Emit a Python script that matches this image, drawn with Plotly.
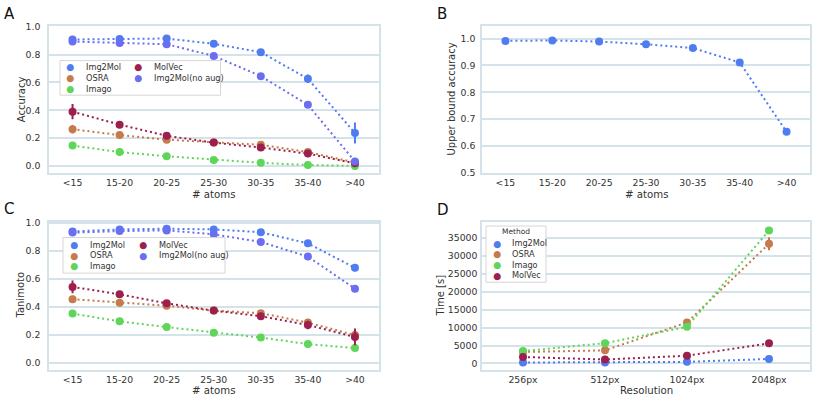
import plotly.graph_objects as go

W, H = 813, 400

# ---------------- data ----------------
atom_bins = ["<15", "15-20", "20-25", "25-30", "30-35", "35-40", ">40"]
resolutions = ["256px", "512px", "1024px", "2048px"]

methods = ["Img2Mol", "OSRA", "Imago", "MolVec", "Img2Mol(no aug)"]
colors = {
    "Img2Mol": "#4f7cf0",
    "OSRA": "#c67b4d",
    "Imago": "#5fd55a",
    "MolVec": "#9c1f4d",
    "Img2Mol(no aug)": "#6c6ef2",
}

# Panel A: accuracy
acc_img2mol = [0.908, 0.912, 0.915, 0.877, 0.817, 0.626, 0.237]
acc_osra = [0.264, 0.222, 0.189, 0.168, 0.152, 0.100, 0.026]
acc_imago = [0.147, 0.100, 0.070, 0.044, 0.023, 0.007, 0.001]
acc_molvec = [0.390, 0.297, 0.217, 0.168, 0.133, 0.089, 0.019]
acc_noaug = [0.893, 0.883, 0.874, 0.790, 0.645, 0.439, 0.033]
acc_err_img2mol = [0.01, 0.01, 0.01, 0.01, 0.01, 0.03, 0.075]
acc_err_osra = [0.03, 0.01, 0.01, 0.01, 0.015, 0.02, 0.01]
acc_err_imago = [0.022, 0.008, 0.008, 0.006, 0.005, 0.005, 0.003]
acc_err_molvec = [0.055, 0.012, 0.015, 0.012, 0.022, 0.025, 0.01]
acc_err_noaug = [0.01, 0.01, 0.01, 0.01, 0.015, 0.018, 0.02]

# Panel B: upper bound accuracy
upper_bound = [0.9915, 0.993, 0.989, 0.979, 0.965, 0.911, 0.653]

# Panel C: tanimoto
tan_img2mol = [0.940, 0.955, 0.960, 0.955, 0.935, 0.855, 0.680]
tan_osra = [0.455, 0.430, 0.408, 0.373, 0.355, 0.287, 0.198]
tan_imago = [0.352, 0.296, 0.255, 0.215, 0.180, 0.133, 0.105]
tan_molvec = [0.543, 0.490, 0.425, 0.373, 0.333, 0.270, 0.184]
tan_noaug = [0.932, 0.943, 0.948, 0.920, 0.865, 0.760, 0.530]
tan_err_img2mol = [0.01, 0.01, 0.01, 0.01, 0.01, 0.012, 0.025]
tan_err_osra = [0.025, 0.01, 0.01, 0.01, 0.012, 0.02, 0.03]
tan_err_imago = [0.01, 0.008, 0.008, 0.008, 0.008, 0.01, 0.02]
tan_err_molvec = [0.045, 0.012, 0.012, 0.012, 0.025, 0.03, 0.06]
tan_err_noaug = [0.01, 0.01, 0.01, 0.01, 0.01, 0.01, 0.01]

# Panel D: time
time_img2mol = [270, 260, 450, 1250]
time_osra = [3200, 3650, 11400, 33300]
time_imago = [3450, 5650, 10200, 37000]
time_molvec = [1800, 1100, 2150, 5600]
time_err_img2mol = [50, 50, 60, 150]
time_err_osra = [200, 300, 400, 1800]
time_err_imago = [200, 200, 300, 400]
time_err_molvec = [150, 100, 150, 250]

panel_a = {
    "Img2Mol": (acc_img2mol, acc_err_img2mol),
    "OSRA": (acc_osra, acc_err_osra),
    "Imago": (acc_imago, acc_err_imago),
    "MolVec": (acc_molvec, acc_err_molvec),
    "Img2Mol(no aug)": (acc_noaug, acc_err_noaug),
}
panel_c = {
    "Img2Mol": (tan_img2mol, tan_err_img2mol),
    "OSRA": (tan_osra, tan_err_osra),
    "Imago": (tan_imago, tan_err_imago),
    "MolVec": (tan_molvec, tan_err_molvec),
    "Img2Mol(no aug)": (tan_noaug, tan_err_noaug),
}
panel_d = {
    "Img2Mol": (time_img2mol, time_err_img2mol),
    "OSRA": (time_osra, time_err_osra),
    "Imago": (time_imago, time_err_imago),
    "MolVec": (time_molvec, time_err_molvec),
}

# ---------------- styling ----------------
FONT = "DejaVu Sans"
TXT = "#333333"
GRID = "#d4e2ea"
DASH = "2px,3px"


def px(x):
    return x / W


def py(y):
    return 1 - y / H


fig = go.Figure()


def add_series(xvals, yvals, err, name, xa, ya):
    fig.add_trace(go.Scatter(
        x=xvals, y=yvals, name=name, mode="lines+markers",
        xaxis=xa, yaxis=ya, showlegend=False,
        line=dict(color=colors[name], width=2, dash=DASH),
        marker=dict(color=colors[name], size=8),
        error_y=dict(type="data", array=err, visible=True,
                     color=colors[name], thickness=2, width=0) if err else None,
    ))


for name, (vals, err) in panel_a.items():
    add_series(atom_bins, vals, err, name, "x", "y")
add_series(atom_bins, upper_bound, None, "Img2Mol", "x2", "y2")
for name, (vals, err) in panel_c.items():
    add_series(atom_bins, vals, err, name, "x3", "y3")
for name, (vals, err) in panel_d.items():
    add_series(resolutions, vals, err, name, "x4", "y4")

dom_left = [px(49), px(378.5)]
dom_right = [px(482), px(810)]
dom_top = [py(172.3), py(21.5)]
dom_bot = [py(374), py(222.3)]

common_x = dict(showgrid=False, showline=True, mirror=True, linecolor=GRID,
                linewidth=1.5, ticks="", zeroline=False,
                tickfont=dict(family=FONT, size=9.3, color=TXT))


def common_y(standoff):
    return dict(showgrid=True, gridcolor=GRID, gridwidth=1.5, showline=True,
                mirror=True, linecolor=GRID, linewidth=1.5, ticks="",
                zeroline=False, ticklabelstandoff=standoff,
                tickfont=dict(family=FONT, size=9.3, color=TXT))


fig.update_layout(
    width=W, height=H, margin=dict(l=0, r=0, t=0, b=0),
    paper_bgcolor="white", plot_bgcolor="white", showlegend=False,
    xaxis=dict(domain=dom_left, anchor="y", range=[-0.5, 6.5], **common_x),
    yaxis=dict(domain=dom_top, anchor="x", range=[-0.05, 1.005],
               tickvals=[0, 0.2, 0.4, 0.6, 0.8, 1.0], tickformat=".1f", **common_y(5)),
    xaxis2=dict(domain=dom_right, anchor="y2", range=[-0.5, 6.5], **common_x),
    yaxis2=dict(domain=dom_top, anchor="x2", range=[0.5, 1.047],
                tickvals=[0.5, 0.6, 0.7, 0.8, 0.9, 1.0], tickformat=".1f", **common_y(3)),
    xaxis3=dict(domain=dom_left, anchor="y3", range=[-0.5, 6.5], **common_x),
    yaxis3=dict(domain=dom_bot, anchor="x3", range=[-0.05, 1.01],
                tickvals=[0, 0.2, 0.4, 0.6, 0.8, 1.0], tickformat=".1f", **common_y(5)),
    xaxis4=dict(domain=dom_right, anchor="y4", range=[-0.5, 3.5], **common_x),
    yaxis4=dict(domain=dom_bot, anchor="x4", range=[-1720, 39440],
                tickvals=[0, 5000, 10000, 15000, 20000, 25000, 30000, 35000],
                tickformat="d", **common_y(1)),
)

annotations = []
shapes = []


def text(x, y, s, size, xanchor="center", yanchor="middle", angle=0, color=TXT):
    annotations.append(dict(
        x=px(x), y=py(y), xref="paper", yref="paper", text=s, showarrow=False,
        xanchor=xanchor, yanchor=yanchor, textangle=angle,
        font=dict(family=FONT, size=size, color=color)))


# panel letters
for letter, x, y in [("A", 2, 9), ("B", 435, 9), ("C", 2, 209), ("D", 435, 210)]:
    text(x, y, letter, 15, xanchor="left", color="#111111")

# axis titles
text(21, 96.7, "Accuracy", 10, angle=-90)
text(452, 97, "Upper bound accuracy", 10, angle=-90)
text(21, 298, "Tanimoto", 10, angle=-90)
text(441, 298, "Time [s]", 10, angle=-90)
text(213.7, 194.5, "# atoms", 10.2)
text(646, 194.5, "# atoms", 10.2)
text(213.7, 395, "# atoms", 10.2)
text(646, 395, "Resolution", 10.2)


def legend_box(x0, y0, x1, y1):
    shapes.append(dict(type="rect", xref="paper", yref="paper",
                       x0=px(x0), x1=px(x1), y0=py(y1), y1=py(y0),
                       fillcolor="white", line=dict(color="#d6d6d6", width=1),
                       layer="above"))


def legend_entry(name, sx, y, gap=14, size=8.2):
    text(sx, y, "●", size + 1, color=colors[name])
    text(sx + gap, y, name, size, xanchor="left")


# Legend A
legend_box(60, 57, 220.5, 92.5)
col1 = methods[:3]
col2 = methods[3:]
rowsA = [63.5, 74.7, 85.9]
for n, yy in zip(col1, rowsA):
    legend_entry(n, 69.5, yy)
for n, yy in zip(col2, rowsA):
    legend_entry(n, 137.5, yy)

# Legend C
legend_box(63, 238.5, 225, 275)
rowsC = [245.7, 256.5, 267.5]
for n, yy in zip(col1, rowsC):
    legend_entry(n, 74, yy)
for n, yy in zip(col2, rowsC):
    legend_entry(n, 143, yy)

# Legend D
legend_box(486, 226.7, 546, 284.3)
text(516, 232.5, "Method", 7.5)
for n, yy in zip(list(panel_d.keys()), [244.3, 255.3, 266.3, 277]):
    legend_entry(n, 496.7, yy, gap=13.5)

fig.update_layout(annotations=annotations, shapes=shapes)

fig.write_html("out.html")
